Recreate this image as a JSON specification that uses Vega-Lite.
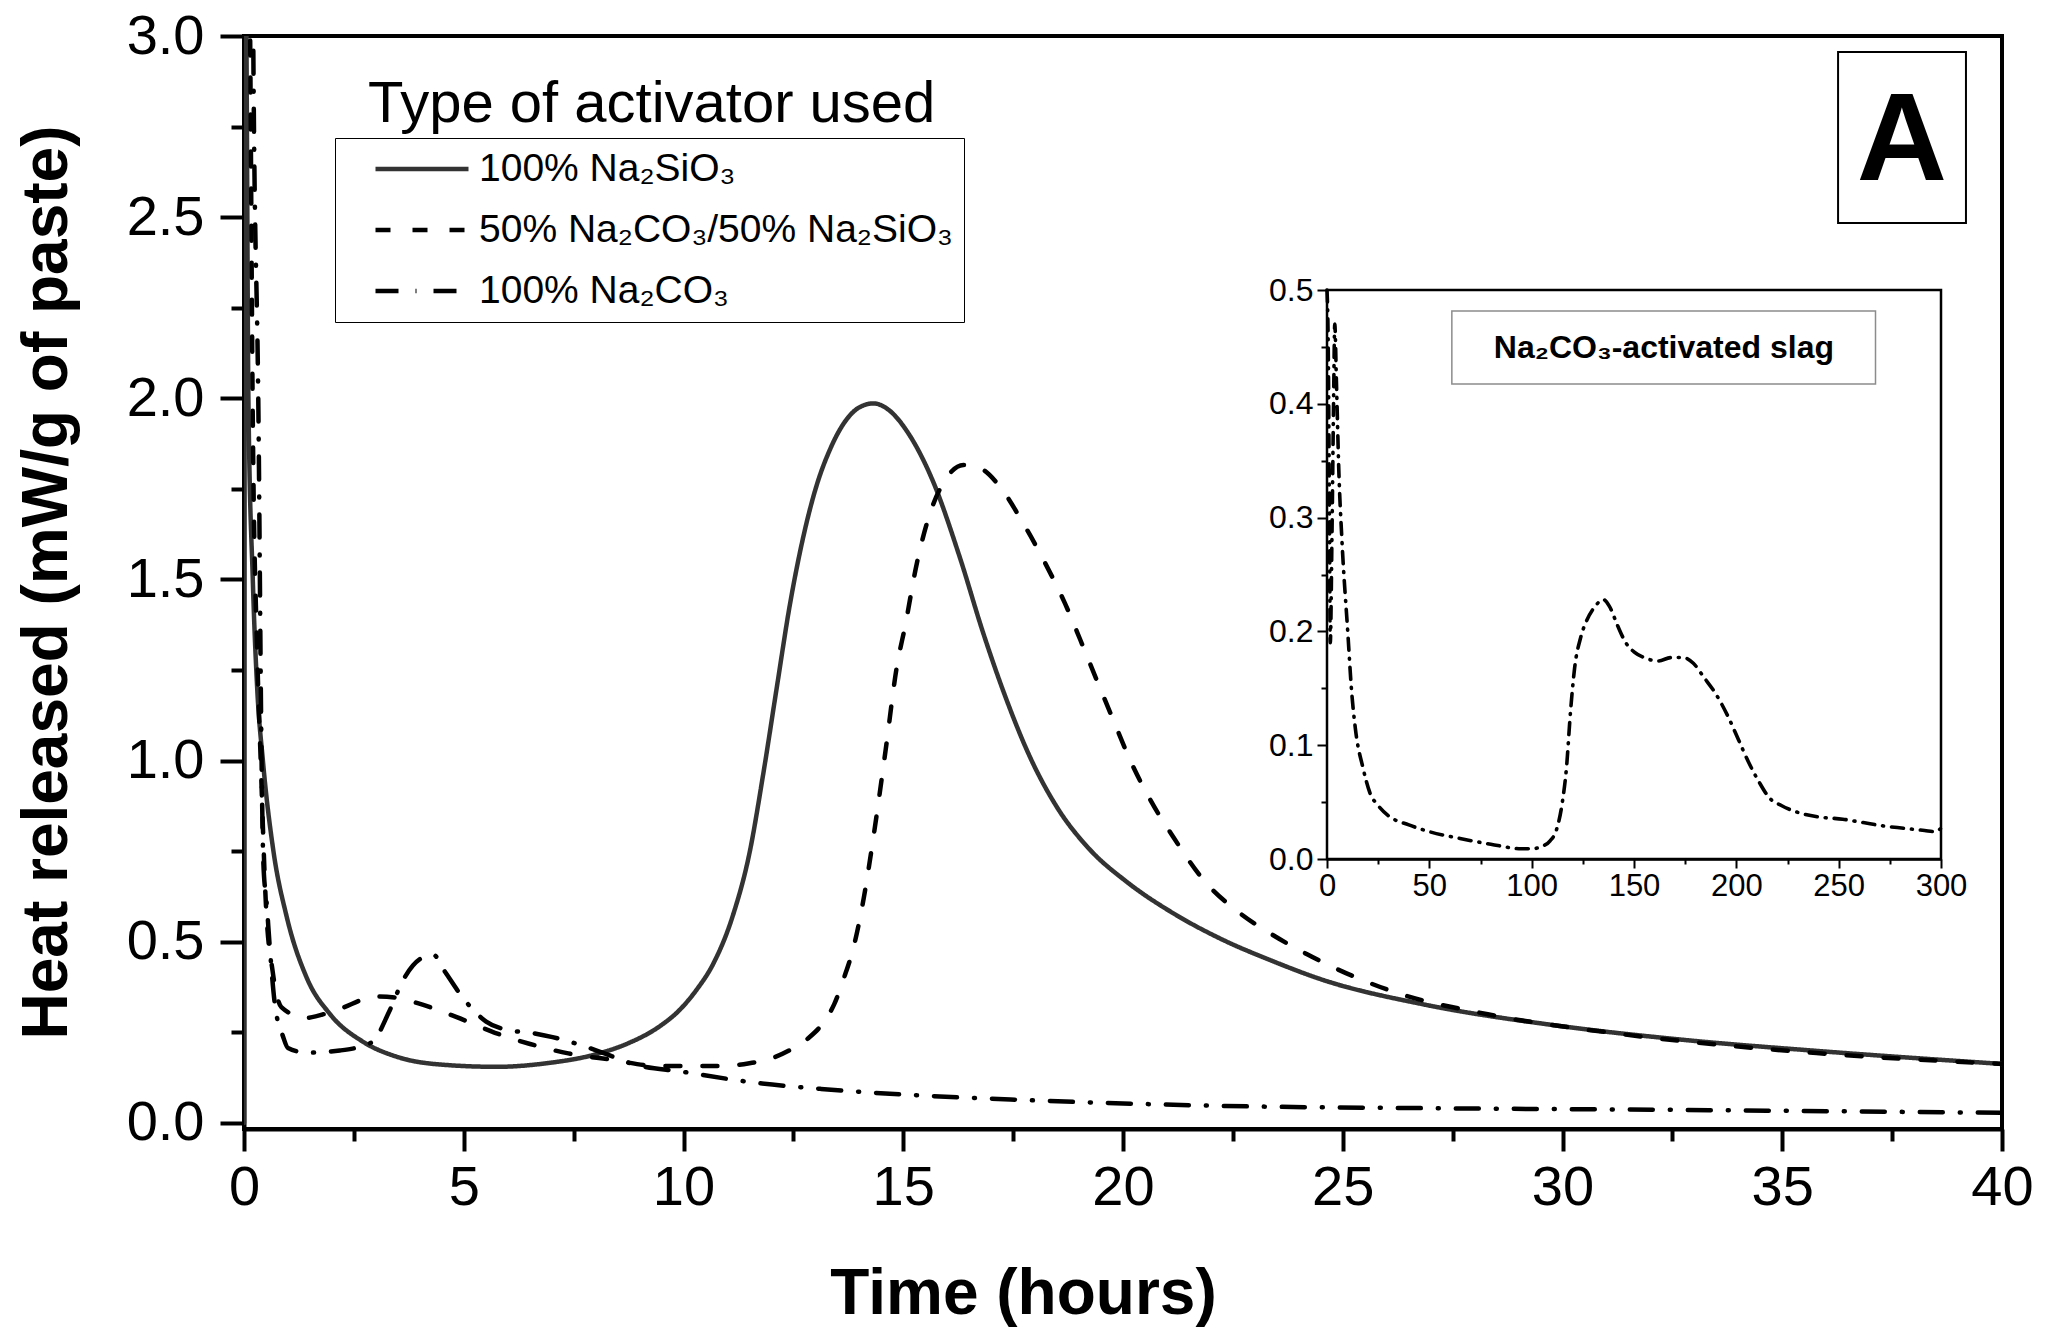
{
  "$schema": "https://vega.github.io/schema/vega-lite/v6.json",
  "width": 1758,
  "height": 1093,
  "autosize": {"type": "none"},
  "padding": {"left": 244, "top": 36, "right": 55, "bottom": 201},
  "background": "white",
  "config": {
    "font": "Liberation Sans",
    "view": {"stroke": "black", "strokeWidth": 4},
    "axis": {"grid": false, "labelFlush": false, "labelOverlap": false, "labelColor": "black", "titleColor": "black", "domainColor": "black", "tickColor": "black"}
  },
  "datasets": {
    "main": [
      {"s": "100% Na₂SiO₃", "t": 0, "v": 0},
      {"s": "100% Na₂SiO₃", "t": 0.02, "v": 3.6},
      {"s": "100% Na₂SiO₃", "t": 0.06, "v": 2.9},
      {"s": "100% Na₂SiO₃", "t": 0.1, "v": 2.0},
      {"s": "100% Na₂SiO₃", "t": 0.2, "v": 1.5},
      {"s": "100% Na₂SiO₃", "t": 0.3, "v": 1.2},
      {"s": "100% Na₂SiO₃", "t": 0.43, "v": 1.0},
      {"s": "100% Na₂SiO₃", "t": 0.67, "v": 0.75},
      {"s": "100% Na₂SiO₃", "t": 0.97, "v": 0.57},
      {"s": "100% Na₂SiO₃", "t": 1.43, "v": 0.4},
      {"s": "100% Na₂SiO₃", "t": 1.96, "v": 0.3},
      {"s": "100% Na₂SiO₃", "t": 2.71, "v": 0.224},
      {"s": "100% Na₂SiO₃", "t": 3.47, "v": 0.183},
      {"s": "100% Na₂SiO₃", "t": 4.61, "v": 0.16},
      {"s": "100% Na₂SiO₃", "t": 5.75, "v": 0.155},
      {"s": "100% Na₂SiO₃", "t": 6.89, "v": 0.165},
      {"s": "100% Na₂SiO₃", "t": 8.02, "v": 0.19},
      {"s": "100% Na₂SiO₃", "t": 8.78, "v": 0.222},
      {"s": "100% Na₂SiO₃", "t": 9.4, "v": 0.262},
      {"s": "100% Na₂SiO₃", "t": 9.92, "v": 0.313},
      {"s": "100% Na₂SiO₃", "t": 10.3, "v": 0.368},
      {"s": "100% Na₂SiO₃", "t": 10.68, "v": 0.44},
      {"s": "100% Na₂SiO₃", "t": 11.13, "v": 0.575},
      {"s": "100% Na₂SiO₃", "t": 11.51, "v": 0.75},
      {"s": "100% Na₂SiO₃", "t": 11.81, "v": 0.96},
      {"s": "100% Na₂SiO₃", "t": 12.12, "v": 1.2},
      {"s": "100% Na₂SiO₃", "t": 12.42, "v": 1.43},
      {"s": "100% Na₂SiO₃", "t": 12.73, "v": 1.62},
      {"s": "100% Na₂SiO₃", "t": 13.03, "v": 1.76},
      {"s": "100% Na₂SiO₃", "t": 13.33, "v": 1.858},
      {"s": "100% Na₂SiO₃", "t": 13.7, "v": 1.94},
      {"s": "100% Na₂SiO₃", "t": 14.0, "v": 1.975},
      {"s": "100% Na₂SiO₃", "t": 14.32, "v": 1.986},
      {"s": "100% Na₂SiO₃", "t": 14.7, "v": 1.965},
      {"s": "100% Na₂SiO₃", "t": 15.08, "v": 1.91},
      {"s": "100% Na₂SiO₃", "t": 15.68, "v": 1.77},
      {"s": "100% Na₂SiO₃", "t": 16.29, "v": 1.56},
      {"s": "100% Na₂SiO₃", "t": 16.82, "v": 1.352},
      {"s": "100% Na₂SiO₃", "t": 17.35, "v": 1.168},
      {"s": "100% Na₂SiO₃", "t": 17.88, "v": 1.011},
      {"s": "100% Na₂SiO₃", "t": 18.49, "v": 0.873},
      {"s": "100% Na₂SiO₃", "t": 19.25, "v": 0.754},
      {"s": "100% Na₂SiO₃", "t": 20.08, "v": 0.666},
      {"s": "100% Na₂SiO₃", "t": 21.14, "v": 0.579},
      {"s": "100% Na₂SiO₃", "t": 22.28, "v": 0.505},
      {"s": "100% Na₂SiO₃", "t": 23.34, "v": 0.45},
      {"s": "100% Na₂SiO₃", "t": 24.57, "v": 0.394},
      {"s": "100% Na₂SiO₃", "t": 26.81, "v": 0.328},
      {"s": "100% Na₂SiO₃", "t": 29.8, "v": 0.27},
      {"s": "100% Na₂SiO₃", "t": 32.79, "v": 0.229},
      {"s": "100% Na₂SiO₃", "t": 35.78, "v": 0.199},
      {"s": "100% Na₂SiO₃", "t": 40, "v": 0.163},
      {"s": "50% Na₂CO₃/50% Na₂SiO₃", "t": 0.1, "v": 3.6},
      {"s": "50% Na₂CO₃/50% Na₂SiO₃", "t": 0.14, "v": 3.0},
      {"s": "50% Na₂CO₃/50% Na₂SiO₃", "t": 0.2, "v": 1.94},
      {"s": "50% Na₂CO₃/50% Na₂SiO₃", "t": 0.3, "v": 1.3},
      {"s": "50% Na₂CO₃/50% Na₂SiO₃", "t": 0.38, "v": 1.0},
      {"s": "50% Na₂CO₃/50% Na₂SiO₃", "t": 0.5, "v": 0.6},
      {"s": "50% Na₂CO₃/50% Na₂SiO₃", "t": 0.65, "v": 0.42},
      {"s": "50% Na₂CO₃/50% Na₂SiO₃", "t": 0.85, "v": 0.32},
      {"s": "50% Na₂CO₃/50% Na₂SiO₃", "t": 1.39, "v": 0.29},
      {"s": "50% Na₂CO₃/50% Na₂SiO₃", "t": 2.11, "v": 0.312},
      {"s": "50% Na₂CO₃/50% Na₂SiO₃", "t": 3.02, "v": 0.349},
      {"s": "50% Na₂CO₃/50% Na₂SiO₃", "t": 3.5, "v": 0.345},
      {"s": "50% Na₂CO₃/50% Na₂SiO₃", "t": 3.97, "v": 0.33},
      {"s": "50% Na₂CO₃/50% Na₂SiO₃", "t": 4.84, "v": 0.292},
      {"s": "50% Na₂CO₃/50% Na₂SiO₃", "t": 5.71, "v": 0.249},
      {"s": "50% Na₂CO₃/50% Na₂SiO₃", "t": 6.51, "v": 0.218},
      {"s": "50% Na₂CO₃/50% Na₂SiO₃", "t": 7.38, "v": 0.192},
      {"s": "50% Na₂CO₃/50% Na₂SiO₃", "t": 8.4, "v": 0.174},
      {"s": "50% Na₂CO₃/50% Na₂SiO₃", "t": 9.4, "v": 0.157},
      {"s": "50% Na₂CO₃/50% Na₂SiO₃", "t": 10.89, "v": 0.157},
      {"s": "50% Na₂CO₃/50% Na₂SiO₃", "t": 11.5, "v": 0.165},
      {"s": "50% Na₂CO₃/50% Na₂SiO₃", "t": 11.94, "v": 0.176},
      {"s": "50% Na₂CO₃/50% Na₂SiO₃", "t": 12.4, "v": 0.2},
      {"s": "50% Na₂CO₃/50% Na₂SiO₃", "t": 12.84, "v": 0.234},
      {"s": "50% Na₂CO₃/50% Na₂SiO₃", "t": 13.2, "v": 0.28},
      {"s": "50% Na₂CO₃/50% Na₂SiO₃", "t": 13.43, "v": 0.328},
      {"s": "50% Na₂CO₃/50% Na₂SiO₃", "t": 13.65, "v": 0.4},
      {"s": "50% Na₂CO₃/50% Na₂SiO₃", "t": 13.88, "v": 0.49},
      {"s": "50% Na₂CO₃/50% Na₂SiO₃", "t": 14.1, "v": 0.62},
      {"s": "50% Na₂CO₃/50% Na₂SiO₃", "t": 14.33, "v": 0.796},
      {"s": "50% Na₂CO₃/50% Na₂SiO₃", "t": 14.6, "v": 1.03},
      {"s": "50% Na₂CO₃/50% Na₂SiO₃", "t": 14.86, "v": 1.264},
      {"s": "50% Na₂CO₃/50% Na₂SiO₃", "t": 15.04, "v": 1.37},
      {"s": "50% Na₂CO₃/50% Na₂SiO₃", "t": 15.31, "v": 1.545},
      {"s": "50% Na₂CO₃/50% Na₂SiO₃", "t": 15.61, "v": 1.683},
      {"s": "50% Na₂CO₃/50% Na₂SiO₃", "t": 15.91, "v": 1.766},
      {"s": "50% Na₂CO₃/50% Na₂SiO₃", "t": 16.37, "v": 1.816},
      {"s": "50% Na₂CO₃/50% Na₂SiO₃", "t": 16.75, "v": 1.807},
      {"s": "50% Na₂CO₃/50% Na₂SiO₃", "t": 17.2, "v": 1.756},
      {"s": "50% Na₂CO₃/50% Na₂SiO₃", "t": 17.73, "v": 1.655},
      {"s": "50% Na₂CO₃/50% Na₂SiO₃", "t": 18.23, "v": 1.545},
      {"s": "50% Na₂CO₃/50% Na₂SiO₃", "t": 18.68, "v": 1.434},
      {"s": "50% Na₂CO₃/50% Na₂SiO₃", "t": 19.03, "v": 1.333},
      {"s": "50% Na₂CO₃/50% Na₂SiO₃", "t": 19.4, "v": 1.223},
      {"s": "50% Na₂CO₃/50% Na₂SiO₃", "t": 19.78, "v": 1.112},
      {"s": "50% Na₂CO₃/50% Na₂SiO₃", "t": 20.16, "v": 1.002},
      {"s": "50% Na₂CO₃/50% Na₂SiO₃", "t": 20.62, "v": 0.892},
      {"s": "50% Na₂CO₃/50% Na₂SiO₃", "t": 21.14, "v": 0.79},
      {"s": "50% Na₂CO₃/50% Na₂SiO₃", "t": 21.83, "v": 0.671},
      {"s": "50% Na₂CO₃/50% Na₂SiO₃", "t": 22.66, "v": 0.579},
      {"s": "50% Na₂CO₃/50% Na₂SiO₃", "t": 23.34, "v": 0.524},
      {"s": "50% Na₂CO₃/50% Na₂SiO₃", "t": 24.2, "v": 0.465},
      {"s": "50% Na₂CO₃/50% Na₂SiO₃", "t": 26.21, "v": 0.36},
      {"s": "50% Na₂CO₃/50% Na₂SiO₃", "t": 28.3, "v": 0.3},
      {"s": "50% Na₂CO₃/50% Na₂SiO₃", "t": 31.3, "v": 0.246},
      {"s": "50% Na₂CO₃/50% Na₂SiO₃", "t": 35.78, "v": 0.193},
      {"s": "50% Na₂CO₃/50% Na₂SiO₃", "t": 40, "v": 0.163},
      {"s": "100% Na₂CO₃", "t": 0.18, "v": 3.6},
      {"s": "100% Na₂CO₃", "t": 0.21, "v": 3.0},
      {"s": "100% Na₂CO₃", "t": 0.33, "v": 1.94},
      {"s": "100% Na₂CO₃", "t": 0.4, "v": 1.0},
      {"s": "100% Na₂CO₃", "t": 0.44, "v": 0.72},
      {"s": "100% Na₂CO₃", "t": 0.52, "v": 0.6},
      {"s": "100% Na₂CO₃", "t": 0.59, "v": 0.48},
      {"s": "100% Na₂CO₃", "t": 0.7, "v": 0.33},
      {"s": "100% Na₂CO₃", "t": 0.89, "v": 0.238},
      {"s": "100% Na₂CO₃", "t": 1.0, "v": 0.207},
      {"s": "100% Na₂CO₃", "t": 1.43, "v": 0.194},
      {"s": "100% Na₂CO₃", "t": 2.18, "v": 0.2},
      {"s": "100% Na₂CO₃", "t": 2.9, "v": 0.222},
      {"s": "100% Na₂CO₃", "t": 3.32, "v": 0.312},
      {"s": "100% Na₂CO₃", "t": 3.61, "v": 0.392},
      {"s": "100% Na₂CO₃", "t": 4.04, "v": 0.455},
      {"s": "100% Na₂CO₃", "t": 4.31, "v": 0.464},
      {"s": "100% Na₂CO₃", "t": 4.57, "v": 0.418},
      {"s": "100% Na₂CO₃", "t": 4.99, "v": 0.344},
      {"s": "100% Na₂CO₃", "t": 5.51, "v": 0.28},
      {"s": "100% Na₂CO₃", "t": 5.98, "v": 0.257},
      {"s": "100% Na₂CO₃", "t": 6.58, "v": 0.248},
      {"s": "100% Na₂CO₃", "t": 7.02, "v": 0.237},
      {"s": "100% Na₂CO₃", "t": 7.76, "v": 0.211},
      {"s": "100% Na₂CO₃", "t": 8.48, "v": 0.179},
      {"s": "100% Na₂CO₃", "t": 8.78, "v": 0.165},
      {"s": "100% Na₂CO₃", "t": 10.0, "v": 0.141},
      {"s": "100% Na₂CO₃", "t": 11.64, "v": 0.111},
      {"s": "100% Na₂CO₃", "t": 13.13, "v": 0.094},
      {"s": "100% Na₂CO₃", "t": 15.38, "v": 0.076},
      {"s": "100% Na₂CO₃", "t": 17.62, "v": 0.064},
      {"s": "100% Na₂CO₃", "t": 22.33, "v": 0.047},
      {"s": "100% Na₂CO₃", "t": 26.8, "v": 0.041},
      {"s": "100% Na₂CO₃", "t": 32.8, "v": 0.036},
      {"s": "100% Na₂CO₃", "t": 40, "v": 0.028}
    ],
    "inset": [
      {"x": 0, "v": 0.5}, {"x": 0.6, "v": 0.45}, {"x": 1.2, "v": 0.3}, {"x": 1.6, "v": 0.19},
      {"x": 2.4, "v": 0.28}, {"x": 3.2, "v": 0.4}, {"x": 3.8, "v": 0.47}, {"x": 4.6, "v": 0.42},
      {"x": 5.8, "v": 0.34}, {"x": 7.3, "v": 0.28}, {"x": 10.2, "v": 0.198}, {"x": 12, "v": 0.148},
      {"x": 13.9, "v": 0.114}, {"x": 17.6, "v": 0.08}, {"x": 21, "v": 0.058}, {"x": 25, "v": 0.047},
      {"x": 30, "v": 0.038}, {"x": 40, "v": 0.03}, {"x": 50, "v": 0.024}, {"x": 65, "v": 0.018},
      {"x": 80, "v": 0.013}, {"x": 95, "v": 0.009}, {"x": 100, "v": 0.009}, {"x": 105, "v": 0.011},
      {"x": 109, "v": 0.016}, {"x": 112, "v": 0.025}, {"x": 115, "v": 0.05}, {"x": 117, "v": 0.08},
      {"x": 119, "v": 0.13}, {"x": 121, "v": 0.168}, {"x": 124, "v": 0.195}, {"x": 127, "v": 0.21},
      {"x": 131, "v": 0.222}, {"x": 135, "v": 0.228}, {"x": 138, "v": 0.222}, {"x": 142, "v": 0.205},
      {"x": 146, "v": 0.19}, {"x": 150, "v": 0.182}, {"x": 155, "v": 0.177}, {"x": 162, "v": 0.174},
      {"x": 168, "v": 0.177}, {"x": 174, "v": 0.177}, {"x": 179, "v": 0.172}, {"x": 184, "v": 0.16},
      {"x": 190, "v": 0.145}, {"x": 196, "v": 0.125}, {"x": 201, "v": 0.105}, {"x": 206, "v": 0.085},
      {"x": 211, "v": 0.068}, {"x": 216, "v": 0.054}, {"x": 222, "v": 0.047}, {"x": 230, "v": 0.041},
      {"x": 240, "v": 0.037}, {"x": 252, "v": 0.035}, {"x": 262, "v": 0.032}, {"x": 272, "v": 0.029},
      {"x": 282, "v": 0.027}, {"x": 292, "v": 0.025}, {"x": 297, "v": 0.024}, {"x": 300, "v": 0.027}
    ]
  },
  "layer": [
    {
      "layer": [
        {
          "data": {"name": "main"},
          "mark": {"type": "line", "clip": true, "strokeWidth": 4.5, "strokeCap": "round", "interpolate": "monotone"},
          "encoding": {
            "x": {
              "field": "t", "type": "quantitative",
              "scale": {"domain": [0, 40], "nice": false, "zero": false},
              "axis": {
                "orient": "bottom",
                "title": "Time (hours)",
                "values": [0, 2.5, 5, 7.5, 10, 12.5, 15, 17.5, 20, 22.5, 25, 27.5, 30, 32.5, 35, 37.5, 40],
                "labelExpr": "datum.value % 5 === 0 ? format(datum.value, 'd') : ''",
                "tickSize": {"condition": {"test": "datum.value % 5 === 0", "value": 22}, "value": 12},
                "tickWidth": 4, "domainWidth": 4,
                "labelFontSize": 56, "labelPadding": 9,
                "titleFontSize": 64, "titleFontWeight": "bold",
                "titleX": 779, "titleY": 184, "titleBaseline": "alphabetic", "titleAlign": "center"
              }
            },
            "y": {
              "field": "v", "type": "quantitative",
              "scale": {"domain": [-0.0166, 3], "nice": false, "zero": false},
              "axis": {
                "orient": "left",
                "title": "Heat released (mW/g of paste)",
                "values": [0, 0.25, 0.5, 0.75, 1, 1.25, 1.5, 1.75, 2, 2.25, 2.5, 2.75, 3],
                "labelExpr": "datum.value % 0.5 === 0 ? format(datum.value, '.1f') : ''",
                "tickSize": {"condition": {"test": "datum.value % 0.5 === 0", "value": 24}, "value": 13},
                "tickWidth": 4, "domainWidth": 4,
                "labelFontSize": 56, "labelPadding": 16,
                "titleFontSize": 64, "titleFontWeight": "bold", "titleAngle": 270,
                "titleX": -178, "titleY": 546, "titleBaseline": "alphabetic", "titleAlign": "center"
              }
            },
            "color": {
              "field": "s", "type": "nominal",
              "scale": {"domain": ["100% Na₂SiO₃", "50% Na₂CO₃/50% Na₂SiO₃", "100% Na₂CO₃"], "range": ["#333333", "#000000", "#000000"]},
              "legend": {"title": null, "orient": "none", "legendX": 91, "legendY": 102, "strokeColor": "black", "padding": 11, "symbolType": "stroke", "symbolSize": 8649, "symbolStrokeWidth": 4.5, "symbolOffset": 27, "clipHeight": 40, "rowPadding": 21, "labelFontSize": 39, "labelLimit": 1000, "labelColor": "black", "labelOffset": 8}
            },
            "strokeDash": {
              "field": "s", "type": "nominal",
              "scale": {"domain": ["100% Na₂SiO₃", "50% Na₂CO₃/50% Na₂SiO₃", "100% Na₂CO₃"], "range": [[1, 0], [15, 22], [23, 17, 1, 17]]},
              "legend": {"title": null, "orient": "none", "legendX": 91, "legendY": 102, "strokeColor": "black", "padding": 11, "symbolType": "stroke", "symbolSize": 8649, "symbolStrokeWidth": 4.5, "symbolOffset": 27, "clipHeight": 40, "rowPadding": 21, "labelFontSize": 39, "labelLimit": 1000, "labelColor": "black", "labelOffset": 8}
            }
          }
        },
        {
          "data": {"values": [{}]},
          "mark": {"type": "text", "fontSize": 58, "align": "left", "baseline": "alphabetic", "color": "black"},
          "encoding": {
            "x": {"datum": 2.82, "type": "quantitative"},
            "y": {"datum": 2.763, "type": "quantitative"},
            "text": {"value": "Type of activator used"}
          }
        },
        {
          "data": {"values": [{}]},
          "mark": {"type": "rect", "fill": "white", "stroke": "black", "strokeWidth": 2},
          "encoding": {
            "x": {"datum": 36.27, "type": "quantitative"},
            "x2": {"datum": 39.18},
            "y": {"datum": 2.956, "type": "quantitative"},
            "y2": {"datum": 2.484}
          }
        },
        {
          "data": {"values": [{}]},
          "mark": {"type": "text", "fontSize": 125, "fontWeight": "bold", "align": "center", "baseline": "alphabetic", "color": "black"},
          "encoding": {
            "x": {"datum": 37.72, "type": "quantitative"},
            "y": {"datum": 2.603, "type": "quantitative"},
            "text": {"value": "A"}
          }
        }
      ]
    },
    {
      "layer": [
        {
          "data": {"values": [{}]},
          "mark": {"type": "rect", "fill": "white", "stroke": "black", "strokeWidth": 2.5},
          "encoding": {
            "x": {
              "datum": 0, "type": "quantitative",
              "scale": {"domain": [0, 300], "range": [1083, 1697], "nice": false, "zero": false},
              "axis": {
                "orient": "bottom", "offset": -270, "title": null,
                "values": [0, 25, 50, 75, 100, 125, 150, 175, 200, 225, 250, 275, 300],
                "labelExpr": "datum.value % 50 === 0 ? format(datum.value, 'd') : ''",
                "tickSize": {"condition": {"test": "datum.value % 50 === 0", "value": 9}, "value": 5},
                "tickWidth": 2, "domainWidth": 2.5,
                "labelFontSize": 31, "labelPadding": 3
              }
            },
            "x2": {"datum": 300},
            "y": {
              "datum": 0, "type": "quantitative",
              "scale": {"domain": [0, 0.5], "range": [823, 254], "nice": false, "zero": false},
              "axis": {
                "orient": "left", "offset": -1083, "title": null,
                "values": [0, 0.05, 0.1, 0.15, 0.2, 0.25, 0.3, 0.35, 0.4, 0.45, 0.5],
                "labelExpr": "round(datum.value * 100) % 10 === 0 ? format(datum.value, '.1f') : ''",
                "tickSize": {"condition": {"test": "round(datum.value * 100) % 10 === 0", "value": 10}, "value": 6},
                "tickWidth": 2, "domainWidth": 2.5,
                "labelFontSize": 32, "labelPadding": 4
              }
            },
            "y2": {"datum": 0.5}
          }
        },
        {
          "data": {"name": "inset"},
          "mark": {"type": "line", "color": "black", "strokeWidth": 3.6, "strokeCap": "round", "strokeDash": [12, 8, 1, 8], "interpolate": "monotone"},
          "encoding": {
            "x": {"field": "x", "type": "quantitative"},
            "y": {"field": "v", "type": "quantitative"}
          }
        },
        {
          "data": {"values": [{}]},
          "mark": {"type": "rect", "fill": "white", "stroke": "#8c8c8c", "strokeWidth": 1.5},
          "encoding": {
            "x": {"datum": 61, "type": "quantitative"},
            "x2": {"datum": 268},
            "y": {"datum": 0.4816, "type": "quantitative"},
            "y2": {"datum": 0.4174}
          }
        },
        {
          "data": {"values": [{}]},
          "mark": {"type": "text", "fontSize": 32, "fontWeight": "bold", "align": "center", "baseline": "middle", "color": "black"},
          "encoding": {
            "x": {"datum": 164.6, "type": "quantitative"},
            "y": {"datum": 0.449, "type": "quantitative"},
            "text": {"value": "Na₂CO₃-activated slag"}
          }
        }
      ]
    }
  ],
  "resolve": {"scale": {"x": "independent", "y": "independent"}}
}
